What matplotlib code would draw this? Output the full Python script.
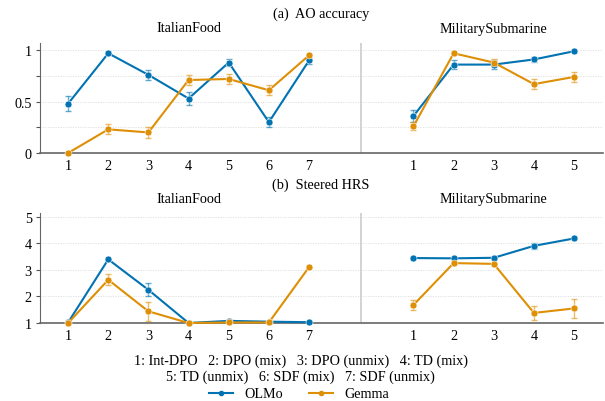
import numpy as np
import matplotlib.pyplot as plt
import matplotlib.transforms as mtransforms
from matplotlib.lines import Line2D

plt.rcParams['font.family'] = ['Liberation Serif', 'DejaVu Serif']
plt.rcParams['font.size'] = 10.2

olmo_color = '#0173b2'
gemma_color = '#de8f05'

italian_labels = ['1', '2', '3', '4', '5', '6', '7']
military_labels = ['1', '2', '3', '4', '5']

# (a) AO accuracy
ao_italian_olmo = [0.48, 0.97, 0.76, 0.53, 0.88, 0.30, 0.90]
ao_italian_olmo_err = [0.07, 0.01, 0.05, 0.06, 0.03, 0.05, 0.03]
ao_italian_gemma = [0.0, 0.23, 0.20, 0.71, 0.72, 0.61, 0.95]
ao_italian_gemma_err = [0.0, 0.05, 0.05, 0.05, 0.05, 0.05, 0.01]
ao_military_olmo = [0.36, 0.86, 0.86, 0.91, 0.99]
ao_military_olmo_err = [0.06, 0.04, 0.04, 0.02, 0.01]
ao_military_gemma = [0.26, 0.97, 0.88, 0.67, 0.74]
ao_military_gemma_err = [0.04, 0.01, 0.03, 0.05, 0.05]

# (b) Steered HRS
hrs_italian_olmo = [1.02, 3.40, 2.25, 1.0, 1.08, 1.05, 1.03]
hrs_italian_olmo_err = [0.02, 0.03, 0.25, 0.0, 0.05, 0.02, 0.01]
hrs_italian_gemma = [1.0, 2.63, 1.44, 1.0, 1.02, 1.02, 3.11]
hrs_italian_gemma_err = [0.0, 0.2, 0.35, 0.0, 0.02, 0.02, 0.02]
hrs_military_olmo = [3.45, 3.44, 3.46, 3.91, 4.19]
hrs_military_olmo_err = [0.02, 0.02, 0.02, 0.12, 0.03]
hrs_military_gemma = [1.68, 3.26, 3.23, 1.38, 1.55]
hrs_military_gemma_err = [0.2, 0.03, 0.03, 0.25, 0.35]

caption_1 = '1: Int-DPO   2: DPO (mix)   3: DPO (unmix)   4: TD (mix)'
caption_2 = '5: TD (unmix)   6: SDF (mix)   7: SDF (unmix)'

gap = 2.6
x_it = np.arange(len(italian_labels))
x_mil = x_it[-1] + gap + np.arange(len(military_labels))
x_sep = (x_it[-1] + x_mil[0]) / 2

fig = plt.figure(figsize=(6.05, 4.02), dpi=100)
W, H = 605, 402


def panel(rect, it_o, it_oe, it_g, it_ge, mil_o, mil_oe, mil_g, mil_ge,
          ylim, ylabels, grid):
    ax = fig.add_axes([rect[0] / W, 1 - rect[3] / H, (rect[2] - rect[0]) / W,
                       (rect[3] - rect[1]) / H])
    for y in grid:
        ax.axhline(y, color='#dddddd', lw=0.6, ls=(0, (1.5, 1.5)), zorder=0)
    ax.axvline(x_sep, color='#cccccc', lw=1.2, zorder=0)
    for xs, o, oe, g, ge in [(x_it, it_o, it_oe, it_g, it_ge),
                             (x_mil, mil_o, mil_oe, mil_g, mil_ge)]:
        for vals, errs, c in [(o, oe, olmo_color), (g, ge, gemma_color)]:
            ax.errorbar(xs, vals, yerr=errs, fmt='none', ecolor=c, alpha=0.6,
                        elinewidth=1, capsize=2, capthick=1, zorder=2)
            ax.plot(xs, vals, color=c, lw=1.5, marker='o', ms=5,
                    mec='white', mew=0.4, zorder=3, clip_on=False)
    ax.set_xlim(x_it[0] - 0.7, x_mil[-1] + 0.72)
    ax.set_ylim(*ylim)
    ax.set_xticks(np.concatenate([x_it, x_mil]))
    ax.set_xticklabels(italian_labels + military_labels)
    ax.set_yticks(grid)
    ax.set_yticklabels(ylabels)
    ax.tick_params(axis='x', length=0, pad=4)
    ax.tick_params(axis='y', length=3, width=0.8, color='#555555', pad=3)
    for s in ['top', 'right']:
        ax.spines[s].set_visible(False)
    ax.spines['left'].set_color('#666666')
    ax.spines['bottom'].set_color('#666666')
    ax.spines['bottom'].set_linewidth(1.2)
    return ax


ax1 = panel((40, 44, 603, 154), ao_italian_olmo, ao_italian_olmo_err,
            ao_italian_gemma, ao_italian_gemma_err, ao_military_olmo,
            ao_military_olmo_err, ao_military_gemma, ao_military_gemma_err,
            (0, 1.07), ['0', '', '0.5', '', '1'], [0, 0.25, 0.5, 0.75, 1.0])
ax2 = panel((40, 214, 603, 324), hrs_italian_olmo, hrs_italian_olmo_err,
            hrs_italian_gemma, hrs_italian_gemma_err, hrs_military_olmo,
            hrs_military_olmo_err, hrs_military_gemma, hrs_military_gemma_err,
            (1, 5.15), ['1', '2', '3', '4', '5'], [1, 2, 3, 4, 5])

for ax, title, ty in [(ax1, '(a)  AO accuracy', 14), (ax2, '(b)  Steered HRS', 185)]:
    fig.text(321 / W, 1 - ty / H, title, ha='center', va='center')
    trans = mtransforms.blended_transform_factory(ax.transData, fig.transFigure)
    yy = 1 - (ty + 15) / H
    ax.text(x_it.mean(), yy, 'ItalianFood', ha='center', va='center', transform=trans)
    ax.text(x_mil.mean(), yy, 'MilitarySubmarine', ha='center', va='center', transform=trans)

fig.text(301 / W, 1 - 361 / H, caption_1, ha='center', va='center')
fig.text(300 / W, 1 - 377 / H, caption_2, ha='center', va='center')

handles = [Line2D([], [], color=olmo_color, lw=1.5, marker='o', ms=3),
           Line2D([], [], color=gemma_color, lw=1.5, marker='o', ms=3)]
fig.legend(handles, ['OLMo', 'Gemma'], loc='center', ncol=2, frameon=False,
           bbox_to_anchor=(299 / W, 1 - 395 / H), columnspacing=1.8,
           handlelength=1.7, handletextpad=0.8)

fig.savefig('out.png', dpi=100)
